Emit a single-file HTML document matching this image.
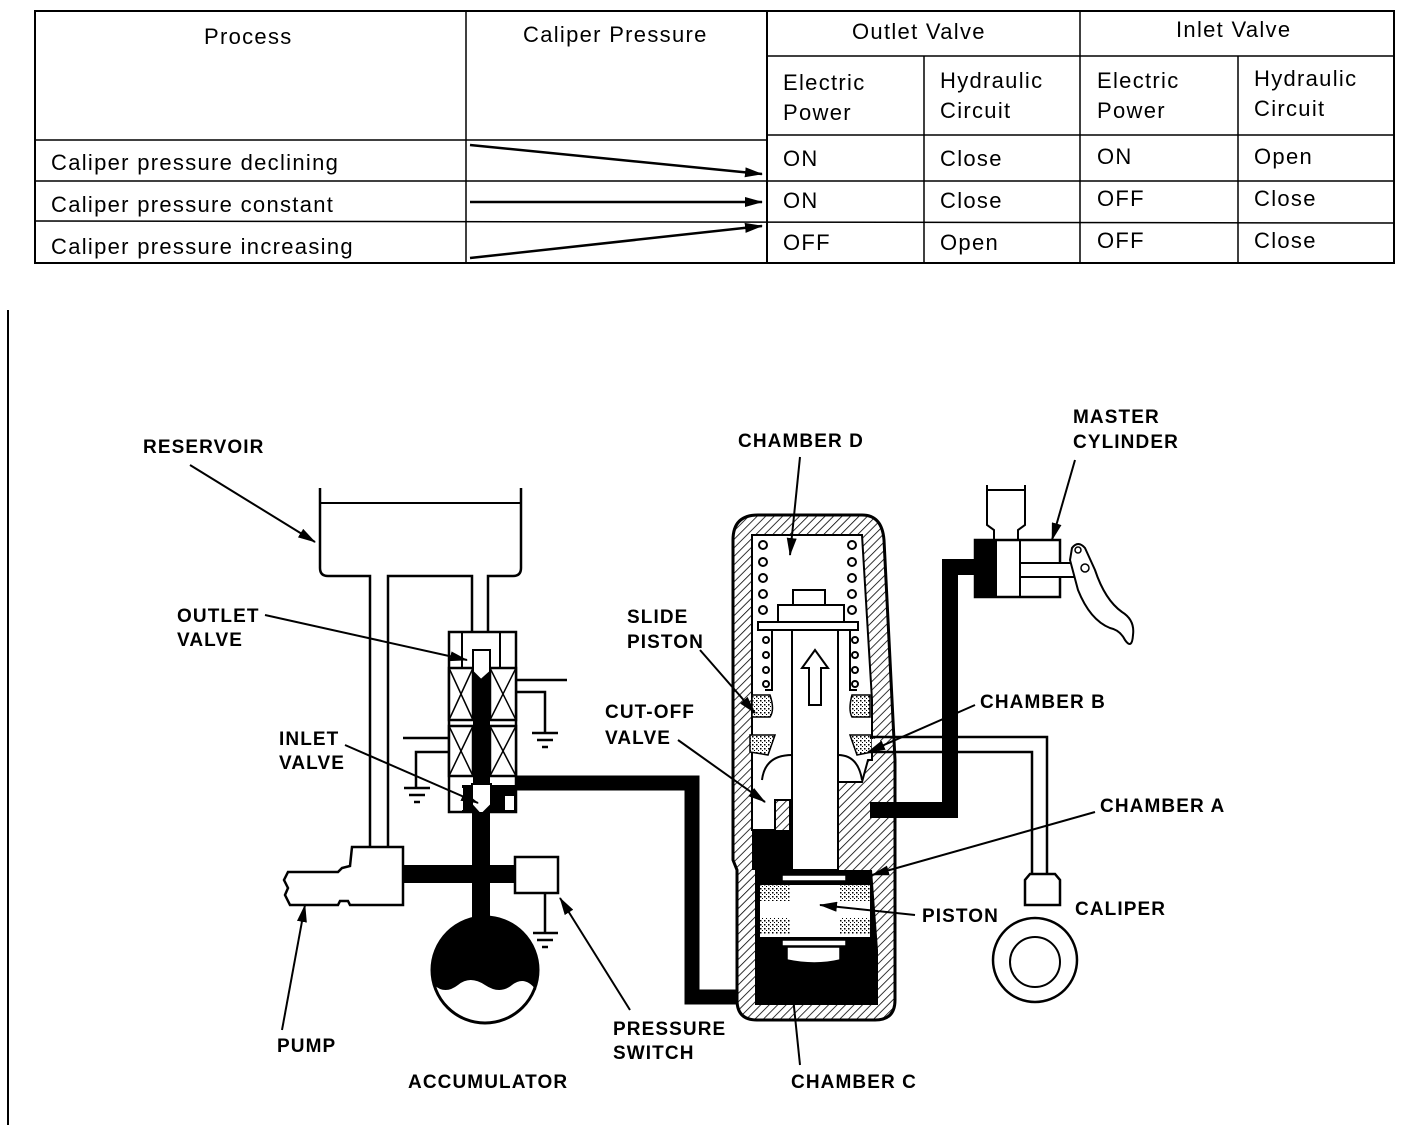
<!DOCTYPE html>
<html><head><meta charset="utf-8"><style>
html,body{margin:0;padding:0;background:#fff;}
svg{display:block;}
.t{font-family:"Liberation Sans",sans-serif;font-size:22px;letter-spacing:1.3px;fill:#000;}
.b{font-family:"Liberation Sans",sans-serif;font-weight:bold;font-size:19px;letter-spacing:1.1px;fill:#000;}
</style></head><body>
<svg width="1408" height="1134" viewBox="0 0 1408 1134" xmlns="http://www.w3.org/2000/svg">
<defs>
<pattern id="h" width="6" height="6" patternUnits="userSpaceOnUse" patternTransform="rotate(45)">
<rect width="6" height="6" fill="#fff"/><line x1="0" y1="0" x2="0" y2="6" stroke="#000" stroke-width="1.6"/>
</pattern>
<pattern id="d" width="4" height="4" patternUnits="userSpaceOnUse">
<rect width="4" height="4" fill="#fff"/><rect width="1.5" height="1.5" fill="#000"/><rect x="2" y="2" width="1" height="1" fill="#000"/>
</pattern>
<marker id="m" markerWidth="18" markerHeight="10" refX="17" refY="5" orient="auto" markerUnits="userSpaceOnUse">
<path d="M0,0 L18,5 L0,10 Z" fill="#000"/></marker>
</defs>

<!-- TABLE -->
<g stroke="#000" fill="none">
<rect x="35" y="11" width="1359" height="252" stroke-width="2"/>
<line x1="466" y1="11" x2="466" y2="263" stroke-width="1.5"/>
<line x1="767" y1="11" x2="767" y2="263" stroke-width="2"/>
<line x1="924" y1="56" x2="924" y2="263" stroke-width="1.5"/>
<line x1="1080" y1="11" x2="1080" y2="263" stroke-width="1.5"/>
<line x1="1238" y1="56" x2="1238" y2="263" stroke-width="1.5"/>
<line x1="767" y1="56" x2="1394" y2="56" stroke-width="1.5"/>
<line x1="35" y1="140" x2="767" y2="140" stroke-width="1.5"/>
<line x1="767" y1="135" x2="1394" y2="135" stroke-width="1.5"/>
<line x1="35" y1="181" x2="1394" y2="181" stroke-width="1.5"/>
<line x1="35" y1="221" x2="1394" y2="223" stroke-width="1.5"/>
<line x1="470" y1="145" x2="762" y2="174" stroke-width="2.5" marker-end="url(#m)"/>
<line x1="470" y1="202" x2="762" y2="202" stroke-width="2.5" marker-end="url(#m)"/>
<line x1="470" y1="258" x2="762" y2="226" stroke-width="2.5" marker-end="url(#m)"/>
</g>
<text class="t" x="204" y="44">Process</text>
<text class="t" x="523" y="42">Caliper Pressure</text>
<text class="t" x="852" y="39">Outlet Valve</text>
<text class="t" x="1176" y="37">Inlet Valve</text>
<text class="t" x="783" y="90">Electric</text><text class="t" x="783" y="120">Power</text>
<text class="t" x="940" y="88">Hydraulic</text><text class="t" x="940" y="118">Circuit</text>
<text class="t" x="1097" y="88">Electric</text><text class="t" x="1097" y="118">Power</text>
<text class="t" x="1254" y="86">Hydraulic</text><text class="t" x="1254" y="116">Circuit</text>
<text class="t" x="51" y="170">Caliper pressure declining</text>
<text class="t" x="51" y="212">Caliper pressure constant</text>
<text class="t" x="51" y="254">Caliper pressure increasing</text>
<text class="t" x="783" y="166">ON</text><text class="t" x="940" y="166">Close</text><text class="t" x="1097" y="164">ON</text><text class="t" x="1254" y="164">Open</text>
<text class="t" x="783" y="208">ON</text><text class="t" x="940" y="208">Close</text><text class="t" x="1097" y="206">OFF</text><text class="t" x="1254" y="206">Close</text>
<text class="t" x="783" y="250">OFF</text><text class="t" x="940" y="250">Open</text><text class="t" x="1097" y="248">OFF</text><text class="t" x="1254" y="248">Close</text>

<line x1="8" y1="310" x2="8" y2="1125" stroke="#000" stroke-width="2"/>

<!-- RESERVOIR & PIPES -->
<g stroke="#000" stroke-width="2.5" fill="none">
<path d="M320,488 V568 Q320,576 328,576 H370 V847"/>
<path d="M388,847 V576 H472 V632"/>
<path d="M488,632 V576 H513 Q521,576 521,568 V488"/>
<line x1="320" y1="503" x2="521" y2="503" stroke-width="2"/>
</g>

<!-- SOLENOID VALVE BODY -->
<g stroke="#000" stroke-width="2.5" fill="#fff">
<rect x="449" y="632" width="67" height="180"/>
<rect x="449" y="668" width="24" height="52"/><rect x="490" y="668" width="26" height="52"/>
<rect x="449" y="726" width="24" height="50"/><rect x="490" y="726" width="26" height="50"/>
</g>
<g stroke="#000" stroke-width="1.5">
<line x1="449" y1="668" x2="473" y2="720"/><line x1="473" y1="668" x2="449" y2="720"/>
<line x1="490" y1="668" x2="516" y2="720"/><line x1="516" y1="668" x2="490" y2="720"/>
<line x1="449" y1="726" x2="473" y2="776"/><line x1="473" y1="726" x2="449" y2="776"/>
<line x1="490" y1="726" x2="516" y2="776"/><line x1="516" y1="726" x2="490" y2="776"/>
<line x1="462" y1="632" x2="462" y2="668" stroke-width="2"/><line x1="500" y1="632" x2="500" y2="668" stroke-width="2"/>
</g>
<rect x="473" y="668" width="17" height="120" fill="#000"/>
<rect x="462" y="785" width="54" height="27" fill="#000"/>
<rect x="451" y="788" width="12" height="22" fill="#fff"/><rect x="505" y="796" width="9" height="14" fill="#fff"/>
<path d="M473,650 H490 V672 L481,680 L473,672 Z" fill="#fff" stroke="#000" stroke-width="2"/>
<path d="M472,784 H491 V805 L481,815 L472,805 Z" fill="#fff" stroke="#000" stroke-width="2"/>
<g stroke="#000" stroke-width="2.5" fill="none">
<path d="M516,680 H567"/><path d="M516,692 H545 V732"/>
<line x1="532" y1="733" x2="558" y2="733"/><line x1="537" y1="740" x2="553" y2="740"/><line x1="542" y1="747" x2="548" y2="747"/>
<path d="M403,738 H449"/><path d="M449,752 H416 V787"/>
<line x1="404" y1="788" x2="430" y2="788"/><line x1="409" y1="795" x2="425" y2="795"/><line x1="414" y1="802" x2="420" y2="802"/>
</g>
<path d="M516,783 H692 V997 H742" stroke="#000" stroke-width="15" fill="none"/>
<rect x="472" y="812" width="18" height="120" fill="#000"/>
<rect x="403" y="865" width="112" height="18" fill="#000"/>
<rect x="515" y="857" width="43" height="36" fill="#fff" stroke="#000" stroke-width="2.5"/>
<g stroke="#000" stroke-width="2.5"><line x1="545" y1="893" x2="545" y2="932"/>
<line x1="533" y1="933" x2="558" y2="933"/><line x1="537" y1="940" x2="553" y2="940"/><line x1="542" y1="947" x2="548" y2="947"/></g>
<path d="M352,847 H403 V905 H350 L348,901 H340 L338,905 H290 L285,895 L288,888 L284,880 L288,872 H338 L342,868 L350,866 Z" fill="#fff" stroke="#000" stroke-width="2.5"/>
<circle cx="485" cy="970" r="53" fill="#fff" stroke="#000" stroke-width="3"/>
<path d="M432,970 A53,53 0 0,1 538,970 L536,990 Q525,975 512,985 Q500,995 485,985 Q470,975 458,985 Q445,995 434,985 Z" fill="#000"/>

<!-- MODULATOR -->
<path d="M733,540 Q733,515 758,515 H862 Q882,515 884,540 L895,760 V1000 Q895,1020 875,1020 H757 Q737,1020 737,1000 V870 L733,860 Z" fill="url(#h)" stroke="#000" stroke-width="3"/>
<path d="M752,535 H862 L872,700 V760 H870 L868,760 L862,782 H815 V870 H790 V800 H775 V830 L752,830 Z" fill="#fff" stroke="#000" stroke-width="2"/>
<path d="M752,830 H790 V870 H752 Z" fill="#000"/>
<path d="M755,870 H872 L878,950 V1005 H755 Z" fill="#000"/>
<rect x="760" y="885" width="110" height="52" fill="#fff"/>
<rect x="760" y="885" width="30" height="16" fill="url(#d)"/><rect x="840" y="885" width="30" height="16" fill="url(#d)"/>
<rect x="760" y="918" width="30" height="16" fill="url(#d)"/><rect x="840" y="918" width="30" height="16" fill="url(#d)"/>
<rect x="782" y="875" width="64" height="6" fill="#fff" stroke="#000" stroke-width="1.5"/>
<rect x="782" y="940" width="64" height="6" fill="#fff" stroke="#000" stroke-width="1.5"/>
<path d="M787,947 H840 V960 Q815,966 787,960 Z" fill="#fff" stroke="#000" stroke-width="1.5"/>
<path d="M752,695 H770 Q775,710 770,717 H752 Z" fill="url(#d)" stroke="#000" stroke-width="1.5"/>
<path d="M870,695 H852 Q848,710 852,717 H870 Z" fill="url(#d)" stroke="#000" stroke-width="1.5"/>
<path d="M750,735 H775 L768,755 L750,752 Z" fill="url(#d)" stroke="#000" stroke-width="1.5"/>
<path d="M872,735 H850 L857,755 L872,752 Z" fill="url(#d)" stroke="#000" stroke-width="1.5"/>
<path d="M762,780 Q765,755 792,755 M862,780 Q858,755 838,755" stroke="#000" stroke-width="2" fill="none"/>
<rect x="792" y="625" width="46" height="245" fill="#fff" stroke="#000" stroke-width="2"/>
<rect x="778" y="605" width="66" height="20" fill="#fff" stroke="#000" stroke-width="2"/>
<rect x="793" y="590" width="32" height="15" fill="#fff" stroke="#000" stroke-width="2"/>
<rect x="758" y="622" width="100" height="8" fill="#fff" stroke="#000" stroke-width="2"/>
<path d="M815,650 L828,668 H821 V705 H809 V668 H802 Z" fill="#fff" stroke="#000" stroke-width="2"/>
<path d="M772,630 V690 H765 M850,630 V690 H857" stroke="#000" stroke-width="2" fill="none"/>
<g fill="#fff" stroke="#000" stroke-width="2">
<circle cx="763" cy="545" r="4"/><circle cx="763" cy="562" r="4"/><circle cx="763" cy="578" r="4"/><circle cx="763" cy="594" r="4"/><circle cx="763" cy="610" r="4"/>
<circle cx="852" cy="545" r="4"/><circle cx="852" cy="562" r="4"/><circle cx="852" cy="578" r="4"/><circle cx="852" cy="594" r="4"/><circle cx="852" cy="610" r="4"/>
<circle cx="766" cy="640" r="3"/><circle cx="766" cy="655" r="3"/><circle cx="766" cy="670" r="3"/><circle cx="766" cy="684" r="3"/>
<circle cx="855" cy="640" r="3"/><circle cx="855" cy="655" r="3"/><circle cx="855" cy="670" r="3"/><circle cx="855" cy="684" r="3"/>
</g>

<!-- master cylinder circuit -->
<path d="M975,567 H950 V810 H870" stroke="#000" stroke-width="16" fill="none"/>
<path d="M870,737 H1047 V875 M870,752 H1032 V875" stroke="#000" stroke-width="2.5" fill="none"/>
<rect x="872" y="739" width="8" height="11" fill="#fff"/>
<path d="M987,485 V525 L994,530 V540 M1025,485 V525 L1018,530 V540 M987,490 H1025" stroke="#000" stroke-width="2" fill="none"/>
<rect x="975" y="540" width="85" height="57" fill="#fff" stroke="#000" stroke-width="2.5"/>
<rect x="975" y="540" width="22" height="57" fill="#000"/>
<line x1="1020" y1="540" x2="1020" y2="597" stroke="#000" stroke-width="2"/>
<rect x="1020" y="563" width="66" height="14" fill="#fff" stroke="#000" stroke-width="2"/>
<path d="M1072,548 Q1078,540 1085,548 L1095,570 Q1105,600 1122,612 Q1135,620 1133,635 Q1132,650 1125,640 Q1120,630 1110,628 Q1090,620 1078,590 L1070,560 Z" fill="#fff" stroke="#000" stroke-width="2"/>
<circle cx="1078" cy="550" r="3" fill="none" stroke="#000" stroke-width="1.5"/><circle cx="1085" cy="568" r="4" fill="none" stroke="#000" stroke-width="1.5"/>
<circle cx="1035" cy="960" r="42" fill="#fff" stroke="#000" stroke-width="2.5"/>
<circle cx="1035" cy="962" r="25" fill="#fff" stroke="#000" stroke-width="2"/>
<path d="M1025,905 V880 L1030,874 H1055 L1060,880 V905 Z" fill="#fff" stroke="#000" stroke-width="2.5"/>

<!-- LABELS & LEADERS -->
<g stroke="#000" stroke-width="2" fill="none" marker-end="url(#m)">
<line x1="190" y1="465" x2="315" y2="542"/>
<line x1="265" y1="615" x2="467" y2="660"/>
<line x1="345" y1="745" x2="478" y2="803"/>
<line x1="282" y1="1030" x2="305" y2="905"/>
<line x1="630" y1="1010" x2="560" y2="898"/>
<line x1="800" y1="1065" x2="790" y2="968"/>
<line x1="915" y1="915" x2="820" y2="905"/>
<line x1="1095" y1="812" x2="872" y2="875"/>
<line x1="975" y1="705" x2="868" y2="752"/>
<line x1="678" y1="740" x2="765" y2="802"/>
<line x1="700" y1="650" x2="755" y2="713"/>
<line x1="800" y1="457" x2="790" y2="555"/>
<line x1="1075" y1="460" x2="1052" y2="540"/>
</g>
<text class="b" x="143" y="453">RESERVOIR</text>
<text class="b" x="177" y="622">OUTLET</text><text class="b" x="177" y="646">VALVE</text>
<text class="b" x="279" y="745">INLET</text><text class="b" x="279" y="769">VALVE</text>
<text class="b" x="277" y="1052">PUMP</text>
<text class="b" x="408" y="1088">ACCUMULATOR</text>
<text class="b" x="613" y="1035">PRESSURE</text><text class="b" x="613" y="1059">SWITCH</text>
<text class="b" x="791" y="1088">CHAMBER C</text>
<text class="b" x="922" y="922">PISTON</text>
<text class="b" x="1075" y="915">CALIPER</text>
<text class="b" x="1100" y="812">CHAMBER A</text>
<text class="b" x="980" y="708">CHAMBER B</text>
<text class="b" x="605" y="718">CUT-OFF</text><text class="b" x="605" y="744">VALVE</text>
<text class="b" x="627" y="623">SLIDE</text><text class="b" x="627" y="648">PISTON</text>
<text class="b" x="738" y="447">CHAMBER D</text>
<text class="b" x="1073" y="423">MASTER</text><text class="b" x="1073" y="448">CYLINDER</text>
</svg>
</body></html>
